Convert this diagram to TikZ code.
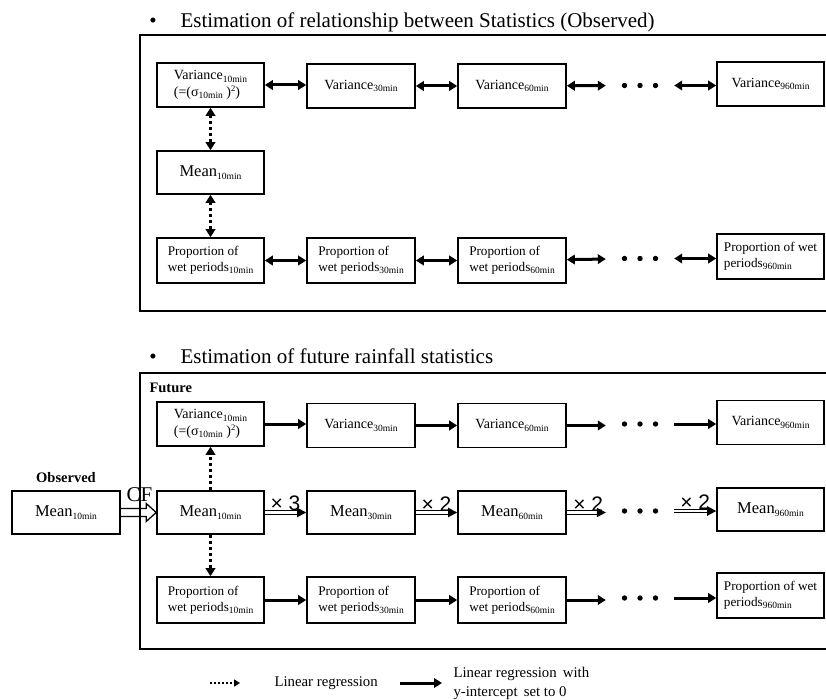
\documentclass[tikz,border=0pt]{standalone}
\usepackage{fontspec}
\setmainfont{Liberation Serif}
\newfontfamily\sansf{Liberation Sans}
\usetikzlibrary{arrows.meta,calc}
\newcommand{\sbs}[1]{\raisebox{-0.35ex}{\fontsize{9.5}{10}\selectfont #1}}
\newcommand{\sps}[1]{\raisebox{0.75ex}{\fontsize{8.5}{9}\selectfont #1}}
\newcommand{\threedots}[1]{\foreach \dx in {-15.5,0,15.5} {\fill ($(#1)+(\dx,0)$) circle (2.7pt);}}
\newcommand{\headat}[1]{\fill (#1) -- ++(-9,-4.8) -- ++(0,9.6) -- cycle;}
\begin{document}
\begin{tikzpicture}[x=1pt,y=-1pt,
  box/.style={draw, line width=1.6pt, minimum width=107pt, minimum height=44pt, inner sep=1pt, align=left},
  vfont/.style={font=\fontsize{14}{16.5}\selectfont},
  mfont/.style={font=\fontsize{16.5}{18}\selectfont},
  pfont/.style={font=\fontsize{13.2}{16}\selectfont},
  dotsnode/.style={minimum width=68pt, minimum height=8pt, inner sep=0pt},
  biarrow/.style={line width=3pt, {Triangle[length=8pt,width=9.5pt]}-{Triangle[length=8pt,width=9.5pt]}},
  onearrow/.style={line width=3pt, -{Triangle[length=8pt,width=9.5pt]}},
  dotarrow/.style={line width=3pt, dash pattern=on 3pt off 3pt},
  dblline/.style={line width=1pt, double distance=2.2pt, shorten >=8pt},
  frame/.style={line width=1.6pt},
  title/.style={font=\fontsize{21}{24}\selectfont},
  lbl/.style={font=\bfseries\fontsize{14.5}{16}\selectfont},
  times/.style={font=\sansf\fontsize{21}{22}\selectfont, inner sep=1pt},
  legtext/.style={font=\fontsize{14.8}{19}\selectfont, align=left}
]
\useasboundingbox (0,0) rectangle (826,700);

% ---------- titles ----------
\node[title, anchor=base] (b1) at (153,28) {•};
\node[title, anchor=base west] (t1) at (177,28) {Estimation of relationship between Statistics (Observed)};
\node[title, anchor=base] (b2) at (153,363) {•};
\node[title, anchor=base west] (t2) at (177,363) {Estimation of future rainfall statistics};

% ---------- frames ----------
\draw[frame] (826,35) -- (140,35) -- (140,311) -- (826,311);
\draw[frame] (826,373) -- (140,373) -- (140,649) -- (826,649);

% ---------- top panel ----------
\node[box, vfont] (ov10) at (210.5,85) {Variance\sbs{10min}\\(=(σ\sbs{10min}\ )\sps{2})};
\node[box, vfont, minimum width=108pt] (ov30) at (361,86) {Variance\sbs{30min}};
\node[box, vfont, minimum width=108pt] (ov60) at (512,86) {Variance\sbs{60min}};
\node[dotsnode] (od1) at (640,85.5) {};
\node[box, vfont] (ov960) at (770.5,84) {Variance\sbs{960min}};

\node[box, mfont, minimum height=43pt] (om10) at (210.5,172.5) {Mean\sbs{10min}};

\node[box, pfont, minimum height=45pt] (op10) at (210.5,260.5) {Proportion of\\wet periods\sbs{10min}};
\node[box, pfont, minimum height=45pt, minimum width=108pt] (op30) at (361,260.5) {Proportion of\\wet periods\sbs{30min}};
\node[box, pfont, minimum height=45pt, minimum width=108pt] (op60) at (512,260.5) {Proportion of\\wet periods\sbs{60min}};
\node[dotsnode] (od2) at (640,258.5) {};
\node[box, pfont, minimum height=45pt] (op960) at (770.5,256.5) {Proportion of wet\\periods\sbs{960min}};

\threedots{od1}
\threedots{od2}

\draw[biarrow] (ov10.east) -- (ov10.east -| ov30.west);
\draw[biarrow] (ov30) -- (ov60);
\draw[biarrow] (ov60) -- (od1);
\draw[biarrow] (od1.east) -- (od1.east -| ov960.west);
\draw[biarrow] (op10) -- (op30);
\draw[biarrow] (op30) -- (op60);
\draw[biarrow] (op60) -- (od2);
\draw[biarrow] (od2.east) -- (od2.east -| op960.west);
\draw[dotarrow, {Triangle[length=8pt,width=9.5pt]}-{Triangle[length=8pt,width=9.5pt]}] (ov10) -- (om10);
\draw[dotarrow, {Triangle[length=8pt,width=9.5pt]}-{Triangle[length=8pt,width=9.5pt]}] (om10) -- (op10);

% ---------- bottom panel ----------
\node[lbl, anchor=west] (fut) at (146,388) {Future};
\node[lbl] (obsl) at (66,478) {Observed};
\node[box, mfont, minimum width=108pt, minimum height=43pt] (obs) at (66,512.5) {Mean\sbs{10min}};

\node[box, vfont] (fv10) at (210.5,424) {Variance\sbs{10min}\\(=(σ\sbs{10min}\ )\sps{2})};
\node[box, vfont, minimum width=108pt] (fv30) at (361,425.5) {Variance\sbs{30min}};
\node[box, vfont, minimum width=108pt] (fv60) at (512,425.5) {Variance\sbs{60min}};
\node[dotsnode] (fd1) at (640,424) {};
\node[box, vfont] (fv960) at (770.5,422.5) {Variance\sbs{960min}};

\node[box, mfont, minimum height=43pt] (fm10) at (210.5,512.5) {Mean\sbs{10min}};
\node[box, mfont, minimum height=43pt, minimum width=108pt] (fm30) at (361,512.5) {Mean\sbs{30min}};
\node[box, mfont, minimum height=43pt, minimum width=108pt] (fm60) at (512,512.5) {Mean\sbs{60min}};
\node[dotsnode] (fd2) at (640,511) {};
\node[box, mfont, minimum height=43pt] (fm960) at (770.5,509.5) {Mean\sbs{960min}};

\node[box, pfont, minimum height=46pt] (fp10) at (210.5,600) {Proportion of\\wet periods\sbs{10min}};
\node[box, pfont, minimum height=46pt, minimum width=108pt] (fp30) at (361,600) {Proportion of\\wet periods\sbs{30min}};
\node[box, pfont, minimum height=46pt, minimum width=108pt] (fp60) at (512,600) {Proportion of\\wet periods\sbs{60min}};
\node[dotsnode] (fd3) at (640,598) {};
\node[box, pfont, minimum height=45pt] (fp960) at (770.5,595.5) {Proportion of wet\\periods\sbs{960min}};

\threedots{fd1}
\threedots{fd2}
\threedots{fd3}

\draw[onearrow] (fv10.east) -- (fv10.east -| fv30.west);
\draw[onearrow] (fv30) -- (fv60);
\draw[onearrow] (fv60.east) -- (fv60.east -| fd1.west);
\draw[onearrow] (fd1.east) -- (fd1.east -| fv960.west);
\draw[onearrow] (fp10) -- (fp30);
\draw[onearrow] (fp30) -- (fp60);
\draw[onearrow] (fp60.east) -- (fp60.east -| fd3.west);
\draw[onearrow] (fd3.east) -- (fd3.east -| fp960.west);
\draw[dotarrow, -{Triangle[length=8pt,width=9.5pt]}] (fm10) -- (fv10);
\draw[dotarrow, -{Triangle[length=8pt,width=9.5pt]}] (fm10) -- (fp10);

% mean chain: double lines with solid heads
\draw[dblline] (fm10) -- node[times, above, pos=0.5] {× 3} (fm30);
\headat{fm30.west}
\draw[dblline] (fm30) -- node[times, above, pos=0.5] {× 2} (fm60);
\headat{fm60.west}
\draw[dblline] (fm60.east) -- node[times, above, pos=0.55] {× 2} (fm60.east -| fd2.west);
\headat{fm60.east -| fd2.west}
\draw[dblline] (fd2.east) -- node[times, above, pos=0.5] {× 2} (fd2.east -| fm960.west);
\headat{fd2.east -| fm960.west}

% CF hollow arrow
\draw[line width=1.3pt, line join=miter]
  ($(obs.east)+(0,-4)$) -- ($(fm10.west)+(-10,-4)$) -- ($(fm10.west)+(-10,-9)$)
  -- (fm10.west) -- ($(fm10.west)+(-10,9)$) -- ($(fm10.west)+(-10,4)$) -- ($(obs.east)+(0,4)$);
\node[font=\fontsize{21}{22}\selectfont, inner sep=0pt] (cf) at (139.5,495) {CF};

% ---------- legend ----------
\coordinate (la) at (210,683);
\coordinate (lb) at (240,683);
\node[legtext, anchor=west] (lt1) at (271,683) {Linear regression};
\draw[line width=2pt, dash pattern=on 2pt off 2pt, -{Triangle[length=6pt,width=7pt]}] (la) -- (lb);
\coordinate (lc) at (400,683);
\coordinate (ld) at (442,683);
\node[legtext, anchor=west] (lt2) at (450,683) {Linear regression\, with\\y-intercept\, set to 0};
\draw[onearrow] (lc) -- (ld);
\end{tikzpicture}
\end{document}
